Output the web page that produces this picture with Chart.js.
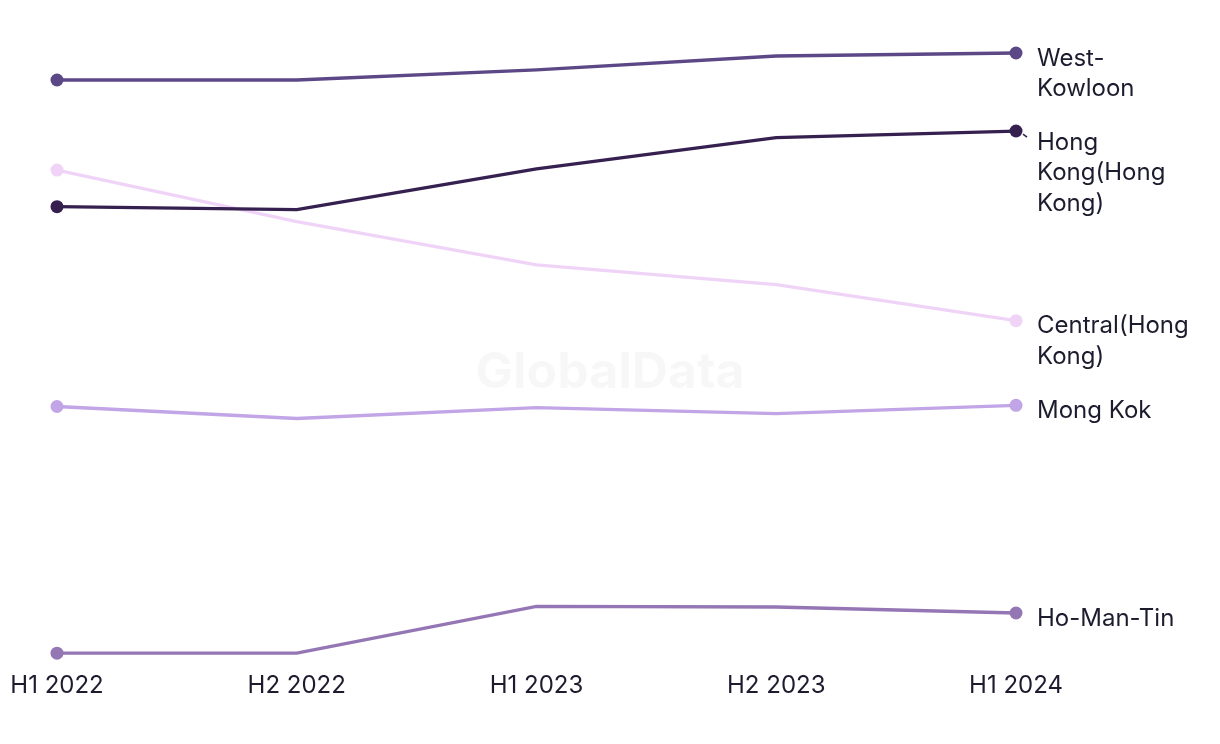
<!DOCTYPE html>
<html>
<head>
<meta charset="utf-8">
<script src="https://cdn.jsdelivr.net/npm/chart.js@4.4.0/dist/chart.umd.min.js"></script>
<style>
html,body{margin:0;padding:0;background:#fff;}
#wrap{position:relative;width:1220px;height:744px;}
</style>
</head>
<body>
<div id="wrap"><canvas id="c" width="1220" height="744"></canvas></div>
<script>
const categories = ["H1 2022", "H2 2022", "H1 2023", "H2 2023", "H1 2024"];
const westKowloon = [95.5, 95.5, 97.2, 99.5, 100];
const hongKong = [74.4, 73.9, 80.7, 85.9, 87.0];
const central = [80.5, 71.9, 64.7, 61.4, 55.4];
const mongKok = [41.1, 39.1, 40.9, 39.9, 41.3];
const hoManTin = [0, 0, 7.8, 7.7, 6.7];
const seriesNames = [["West-", "Kowloon"], ["Hong", "Kong(Hong", "Kong)"], ["Central(Hong", "Kong)"], ["Mong Kok"], ["Ho-Man-Tin"]];
const seriesColors = ["#5c4886", "#35204f", "#f0d4f8", "#c1a5e6", "#9476b4"];

const FONT = "Inter, 'Noto Sans', sans-serif";
const TEXT = "#1c1c2e";

const endLabels = {
  id: 'endLabels',
  afterDatasetsDraw(chart) {
    const ctx = chart.ctx;
    const lineH = 30.5;
    const items = chart.data.datasets.map((ds, i) => {
      const meta = chart.getDatasetMeta(i);
      const pt = meta.data[meta.data.length - 1];
      return { lines: seriesNames[i], px: pt.x, py: pt.y, color: ds.borderColor, y: pt.y + 5.5 };
    }).sort((a, b) => a.py - b.py);
    let prevBottom = -Infinity;
    items.forEach(it => {
      const top = it.y - lineH / 2;
      if (top < prevBottom + 23) it.y = prevBottom + 23 + lineH / 2;
      prevBottom = it.y + (it.lines.length - 1) * lineH + lineH / 2;
    });
    ctx.save();
    ctx.font = "24px " + FONT;
    ctx.fillStyle = TEXT;
    ctx.textBaseline = 'middle';
    ctx.textAlign = 'left';
    items.forEach(it => {
      if (it.y - it.py > 8) {
        ctx.strokeStyle = it.color;
        ctx.lineWidth = 1.5;
        ctx.beginPath();
        ctx.moveTo(it.px + 7, it.py + 3);
        ctx.lineTo(it.px + 11, it.py + 6);
        ctx.stroke();
      }
      it.lines.forEach((l, k) => ctx.fillText(l, it.px + 21, it.y + k * lineH));
    });
    ctx.restore();
  }
};

const watermark = {
  id: 'watermark',
  beforeDatasetsDraw(chart) {
    const ctx = chart.ctx;
    ctx.save();
    ctx.font = "bold 50px " + FONT;
    ctx.fillStyle = "rgba(0,0,0,0.03)";
    ctx.textAlign = 'center';
    ctx.textBaseline = 'middle';
    ctx.fillText("GlobalData", 610, 373);
    ctx.restore();
  }
};

const mk = (data, i) => ({
  data: data,
  borderColor: seriesColors[i],
  backgroundColor: seriesColors[i],
  pointBackgroundColor: seriesColors[i],
  pointBorderWidth: 0,
  pointRadius: [6.5, 0, 0, 0, 6.5],
  pointHoverRadius: 6.5,
  borderWidth: 3.3,
  tension: 0,
  clip: false
});

new Chart(document.getElementById('c'), {
  type: 'line',
  data: {
    labels: categories,
    datasets: [mk(westKowloon, 0), mk(hongKong, 1), mk(central, 2), mk(mongKok, 3), mk(hoManTin, 4)]
  },
  options: {
    responsive: false,
    animation: false,
    layout: { padding: { left: 57, right: 204, top: 53, bottom: 26 } },
    plugins: { legend: { display: false }, tooltip: { enabled: false } },
    scales: {
      x: {
        offset: false,
        grid: { display: false, drawTicks: false },
        border: { display: false },
        ticks: { color: TEXT, font: { family: FONT, size: 24 }, padding: 18, maxRotation: 0 },
        afterFit(scale) { scale.paddingLeft = 0; scale.paddingRight = 0; }
      },
      y: {
        display: false,
        min: 0,
        max: 100
      }
    }
  },
  plugins: [watermark, endLabels]
});
</script>
</body>
</html>
